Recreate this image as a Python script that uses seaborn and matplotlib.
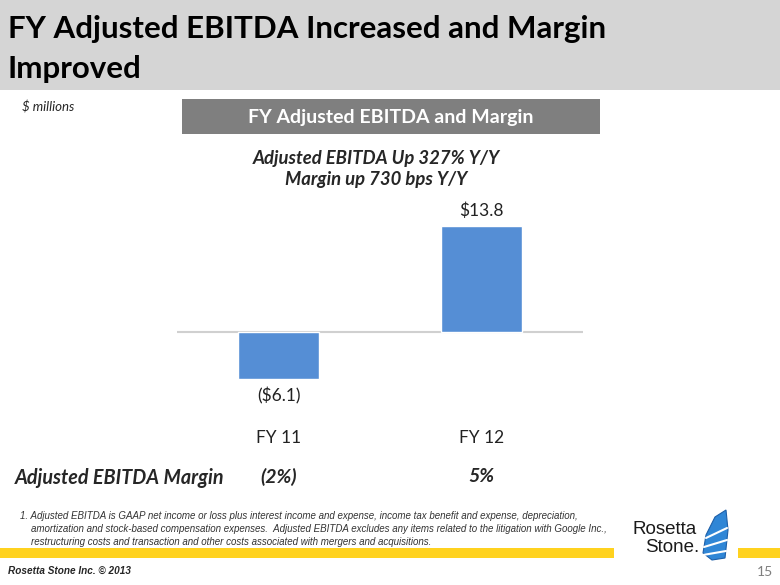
import matplotlib
matplotlib.use("Agg")
import matplotlib.pyplot as plt
import seaborn as sns
import pandas as pd
from matplotlib.patches import Rectangle, Polygon
import matplotlib.transforms as mtransforms

# ---- data ----
categories = ["FY 11", "FY 12"]
ebitda = [-6.1, 13.8]
bar_labels = ["($6.1)", "$13.8"]
margins = ["(2%)", "5%"]

title = "FY Adjusted EBITDA Increased and Margin\nImproved"
subtitle = "FY Adjusted EBITDA and Margin"
headline = "Adjusted EBITDA Up 327% Y/Y\nMargin up 730 bps Y/Y"
units = "$ millions"
margin_label = "Adjusted EBITDA Margin"
footnote = ("1. Adjusted EBITDA is GAAP net income or loss plus interest income and expense, income tax benefit and expense, depreciation,\n"
            "    amortization and stock-based compensation expenses.  Adjusted EBITDA excludes any items related to the litigation with Google Inc.,\n"
            "    restructuring costs and transaction and other costs associated with mergers and acquisitions.")
copyright_txt = "Rosetta Stone Inc. \u00a9 2013"
page_no = "15"

sns.set_theme(style="white")
plt.rcParams['font.family'] = ['Lato', 'DejaVu Sans']

W, H = 780, 585
fig = plt.figure(figsize=(7.8, 5.85), dpi=100)

def fx(x):
    return x / W

def fy(y):
    return 1 - y / H

# title band
fig.patches.append(Rectangle((0, fy(90)), 1, 90 / H, transform=fig.transFigure,
                             facecolor="#d5d5d5", edgecolor="none", zorder=0))
fig.text(fx(8), fy(49), title, fontsize=22.5, fontweight="bold", color="black",
         ha="left", va="center", linespacing=1.5)

fig.text(fx(22), fy(107), units, fontsize=9.5, style="italic", ha="left", va="center")

# subtitle box
fig.patches.append(Rectangle((fx(182), fy(134)), (600 - 182) / W, 35 / H,
                             transform=fig.transFigure, facecolor="#7f7f7f",
                             edgecolor="none", zorder=0))
fig.text(fx(391), fy(117), subtitle, fontsize=14, fontweight="bold", color="white",
         ha="center", va="center")

fig.text(fx(376), fy(169), headline, fontsize=13.3, fontweight="bold", style="italic",
         ha="center", va="center", linespacing=1.25)

# ---- bar chart ----
ymin, ymax = -8, 16
ppu = 7.68
zero_px = 332
top_px = zero_px - ymax * ppu
bot_px = zero_px - ymin * ppu
ax = fig.add_axes([fx(177), fy(bot_px), (583 - 177) / W, (bot_px - top_px) / H])
df = pd.DataFrame({"cat": categories, "val": ebitda})
sns.barplot(data=df, x="cat", y="val", color="#558ed5", saturation=1, width=0.4,
            ax=ax, zorder=2)
ax.set_xlim(-0.5, 1.5)
ax.set_ylim(ymin, ymax)
ax.axhline(0, color="#d0d0d0", lw=1.5, zorder=1)
for s in ax.spines.values():
    s.set_visible(False)
ax.set_yticks([])
ax.set_xlabel("")
ax.set_ylabel("")
ax.tick_params(axis="x", length=0, pad=26, labelsize=12.5, labelcolor="#222222")
for i, (v, lab) in enumerate(zip(ebitda, bar_labels)):
    if v >= 0:
        ax.annotate(lab, (i, v), xytext=(0, 5), textcoords="offset points",
                    ha="center", va="bottom", fontsize=12.5, color="#222222")
    else:
        ax.annotate(lab, (i, v), xytext=(0, -6), textcoords="offset points",
                    ha="center", va="top", fontsize=12.5, color="#222222")

# margin row
fig.text(fx(15), fy(478), margin_label, fontsize=14.2, fontweight="bold", style="italic",
         ha="left", va="center")
trans = mtransforms.blended_transform_factory(ax.transData, fig.transFigure)
for i, m in enumerate(margins):
    fig.text(i, fy(477), m, transform=trans, fontsize=14, fontweight="bold",
             style="italic", ha="center", va="center")

# footnote
fig.text(fx(20), fy(529), footnote, family=["Liberation Sans", "DejaVu Sans"],
         style="italic", fontsize=7, color="#333333", ha="left", va="center",
         linespacing=1.4)

# yellow bar
for x0, x1 in [(0, 614), (738, 780)]:
    fig.patches.append(Rectangle((fx(x0), fy(558)), (x1 - x0) / W, 10 / H,
                                 transform=fig.transFigure, facecolor="#ffd21f",
                                 edgecolor="none", zorder=0))

fig.text(fx(8), fy(571), copyright_txt, family=["Liberation Sans", "DejaVu Sans"],
         fontsize=7.2, fontweight="bold", style="italic", ha="left", va="center")
fig.text(fx(773), fy(572), page_no, fontsize=10, color="#7f7f7f", ha="right", va="center")

# logo
fig.text(fx(697), fy(530), "Rosetta", family=["Liberation Sans", "DejaVu Sans"],
         fontsize=13.5, ha="right", va="center", color="#1a1a1a")
fig.text(fx(699), fy(548), "Stone.", family=["Liberation Sans", "DejaVu Sans"],
         fontsize=13.5, ha="right", va="center", color="#1a1a1a")
logo_pts = [(703, 553), (706, 535), (715, 517), (726, 510), (728, 530), (725, 558), (712, 560)]
fig.patches.append(Polygon([(fx(x), fy(y)) for x, y in logo_pts], closed=True,
                           transform=fig.transFigure, facecolor="#2f86d6",
                           edgecolor="#1d5fa8", lw=0.8, zorder=1))
for (xa, ya, xb, yb) in [(706, 538, 727, 528), (704, 547, 727, 540), (703, 555, 726, 551)]:
    fig.lines.append(plt.Line2D([fx(xa), fx(xb)], [fy(ya), fy(yb)], transform=fig.transFigure,
                                color="white", lw=1.5, zorder=2))

fig.savefig("out.png", dpi=100)
